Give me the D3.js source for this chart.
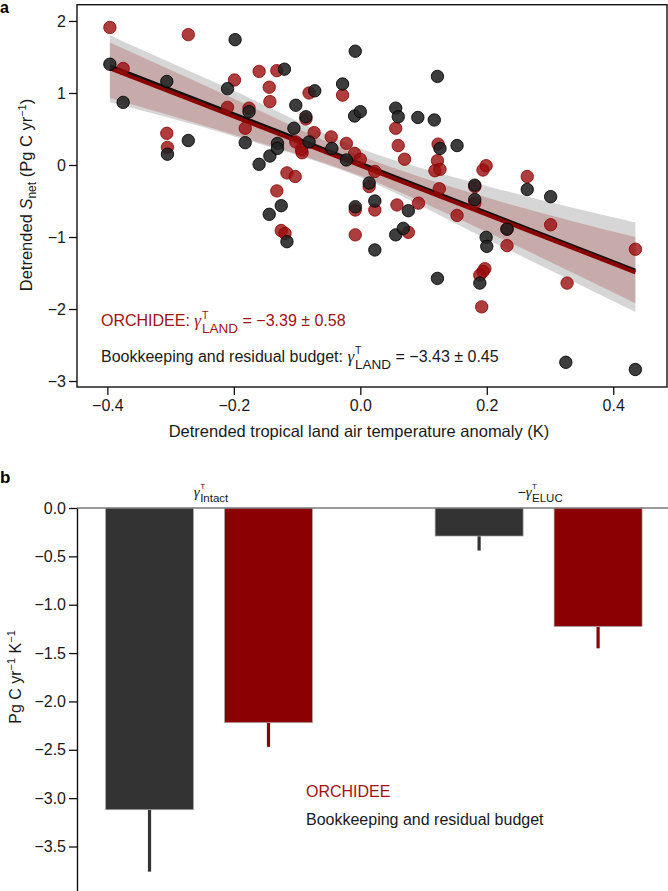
<!DOCTYPE html>
<html><head><meta charset="utf-8">
<script src="https://cdn.jsdelivr.net/npm/d3@7"></script>
<style>
body{margin:0;background:#fff}
svg{display:block}
text{font-family:"Liberation Sans",Arial,Helvetica,sans-serif}
</style>
</head><body>
<svg id="c" width="668" height="891"></svg>
<script>
// ---------- Panel a data (detrended tropical temperature anomaly, K ; detrended S_net, Pg C/yr) ----------
const bkTemp = [-0.396,-0.375,-0.306,-0.305,-0.272,-0.198,-0.210,-0.182,-0.176,-0.120,-0.160,-0.143,-0.131,-0.131,-0.125,-0.144,-0.102,-0.072,-0.086,-0.105,-0.081,-0.045,-0.022,0.014,-0.008,-0.028,-0.009,0.000,0.056,0.060,0.091,0.117,0.122,0.126,-0.008,0.023,0.076,-0.116,0.023,0.056,0.068,0.122,0.153,0.181,0.181,0.264,0.301,0.232,0.199,0.200,0.189,0.325,0.435];
const bkSnet = [1.40,0.87,1.16,0.15,0.34,1.74,1.06,0.31,0.74,1.33,0.01,0.125,0.30,0.23,-0.565,-0.685,0.83,1.03,0.67,0.51,0.32,0.23,0.07,-0.25,1.58,1.125,0.68,0.74,0.79,0.67,0.66,0.625,1.23,0.23,-0.58,-0.50,-0.635,-1.065,-1.18,-0.97,-0.88,-1.575,0.27,-0.28,-0.48,-0.34,-0.44,-0.89,-1.005,-1.13,-1.64,-2.74,-2.84];
const orTemp = [-0.396,-0.375,-0.306,-0.305,-0.272,-0.199,-0.210,-0.182,-0.176,-0.160,-0.132,-0.144,-0.143,-0.116,-0.103,-0.132,-0.081,-0.086,-0.073,-0.102,-0.093,-0.092,-0.046,-0.022,-0.009,0.000,0.023,0.014,-0.028,0.056,0.060,0.070,0.123,0.122,0.118,0.126,0.125,-0.008,0.023,0.058,0.092,-0.125,-0.119,-0.008,0.076,0.153,0.181,0.181,0.194,0.199,0.264,0.232,0.232,0.301,0.435,0.327,0.197,0.194,0.189,0.192];
const orSnet = [1.91,1.34,0.44,0.245,1.81,1.18,0.80,0.51,0.79,1.30,1.31,1.08,0.88,-0.11,-0.16,-0.36,1.00,0.64,0.45,0.32,0.21,0.17,0.39,0.30,0.16,0.08,-0.09,-0.30,0.97,0.51,0.27,0.08,0.29,0.06,-0.08,-0.06,-0.33,-0.625,-0.625,-0.555,-0.53,-0.91,-0.95,-0.97,-0.935,-0.70,-0.30,-0.53,-0.07,-0.01,-0.16,-0.89,-1.12,-0.83,-1.17,-1.64,-1.44,-1.48,-1.53,-1.97];

// regression lines (end points) and confidence bands
const fitTemp = [-0.396, 0.435];
const bkFit = [1.38, -1.46];
const orFit = [1.34, -1.49];
const bandTemp = [-0.396, -0.2, 0.0, 0.2, 0.435];
const bkBandUpper = [1.80, 1.03, 0.23, -0.29, -0.80];
const bkBandLower = [0.87, 0.40, -0.17, -1.03, -2.04];
const orBandUpper = [1.70, 0.92, 0.13, -0.45, -1.00];
const orBandLower = [0.93, 0.42, -0.15, -0.93, -1.92];

const xTicksA = [-0.4, -0.2, 0.0, 0.2, 0.4];
const yTicksA = [2, 1, 0, -1, -2, -3];

// ---------- Panel b data ----------
const groups = ["Intact", "ELUC"];
const seriesB = ["Bookkeeping and residual budget", "ORCHIDEE"];
const barBK = [-3.12, -0.29];
const barOR = [-2.22, -1.226];
const errBK = [0.64, 0.15];
const errOR = [0.25, 0.225];
const yTicksB = [0.0, -0.5, -1.0, -1.5, -2.0, -2.5, -3.0, -3.5];

// ---------- styles ----------
const RED = "#8b0000", RED_TXT = "#a01212", DARK = "#333333", INK = "#1a1a1a";
const SERIF = '"Liberation Serif","DejaVu Serif",serif';
const fmtMinus = d => d3.format(".1f")(d).replace("-", "\u2212");
const fmtInt = d => String(d).replace("-", "\u2212");

const svg = d3.select("#c");

// rich text helper: one <text>, tspans laid out sequentially; stack:true places part at previous part's start
function rich(parent, x, y, parts, opt) {
  opt = opt || {};
  const txt = parent.append("text").attr("fill", opt.fill || INK);
  let cx = 0, lastStart = 0;
  const spans = [];
  parts.forEach(p => {
    const t = txt.append("tspan")
      .attr("y", y + (p.dy || 0))
      .style("font-size", (p.size || 16) + "px")
      .style("font-family", p.serif ? SERIF : null)
      .style("font-style", p.italic ? "italic" : "normal")
      .text(p.t);
    if (p.fill) t.attr("fill", p.fill);
    t.attr("x", 0);
    const w = t.node().getComputedTextLength();
    let sx;
    if (p.stack) {
      sx = lastStart;
      cx = Math.max(cx, lastStart + w);
    } else {
      sx = cx + (p.gap || 0);
      lastStart = sx;
      cx = sx + w;
    }
    spans.push([t, sx]);
  });
  const ox = opt.anchor === "middle" ? x - cx / 2 : x;
  spans.forEach(([t, sx]) => t.attr("x", ox + sx));
  return txt;
}

// ================= Panel a =================
const xA = d3.scaleLinear().domain([-0.448, 0.485]).range([77, 667]);
const yA = d3.scaleLinear().domain([-3.083, 2.226]).range([387, 4.7]);

const gA = svg.append("g");

// confidence bands
const bkBand = bandTemp.map((t, i) => ({t, lo: bkBandLower[i], hi: bkBandUpper[i]}));
const orBand = bandTemp.map((t, i) => ({t, lo: orBandLower[i], hi: orBandUpper[i]}));
const area = d3.area().x(d => xA(d.t)).y0(d => yA(d.lo)).y1(d => yA(d.hi)).curve(d3.curveMonotoneX);
gA.append("path").datum(bkBand).attr("d", area).attr("fill", "#d6d6d6");
gA.append("path").datum(orBand).attr("d", area).attr("fill", RED).attr("fill-opacity", 0.2);

// regression lines
const lineGen = d3.line().x(d => xA(d[0])).y(d => yA(d[1]));
gA.append("path").datum(fitTemp.map((t, i) => [t, bkFit[i]])).attr("d", lineGen)
  .attr("stroke", "#111").attr("stroke-width", 3).attr("fill", "none");
gA.append("path").datum(fitTemp.map((t, i) => [t, orFit[i]])).attr("d", lineGen)
  .attr("stroke", RED).attr("stroke-width", 4).attr("fill", "none");

// points: red first, then black on top
gA.append("g").selectAll("circle").data(orTemp.map((t, i) => [t, orSnet[i]])).join("circle")
  .attr("cx", d => xA(d[0])).attr("cy", d => yA(d[1])).attr("r", 6.2)
  .attr("fill", "#9a0c0c").attr("fill-opacity", 0.8)
  .attr("stroke", RED).attr("stroke-opacity", 0.8).attr("stroke-width", 1);
gA.append("g").selectAll("circle").data(bkTemp.map((t, i) => [t, bkSnet[i]])).join("circle")
  .attr("cx", d => xA(d[0])).attr("cy", d => yA(d[1])).attr("r", 6.2)
  .attr("fill", "#222").attr("fill-opacity", 0.88)
  .attr("stroke", "#000").attr("stroke-opacity", 0.85).attr("stroke-width", 1);

// frame
gA.append("rect").attr("x", 77).attr("y", 4.7).attr("width", 590).attr("height", 382.3)
  .attr("fill", "none").attr("stroke", "#111").attr("stroke-width", 1.4);

// axes
const axA_x = gA.append("g").attr("transform", "translate(0,387)")
  .call(d3.axisBottom(xA).tickValues(xTicksA).tickFormat(fmtMinus).tickSize(8).tickPadding(5));
const axA_y = gA.append("g").attr("transform", "translate(77,0)")
  .call(d3.axisLeft(yA).tickValues(yTicksA).tickFormat(fmtInt).tickSize(8).tickPadding(3));
[axA_x, axA_y].forEach(a => {
  a.select(".domain").remove();
  a.selectAll(".tick line").attr("stroke", "#111").attr("stroke-width", 1.3);
  a.selectAll(".tick text").attr("fill", INK).style("font-size", "16px").style("font-family", null);
});

// axis titles
gA.append("text").attr("x", 359).attr("y", 437).attr("text-anchor", "middle")
  .style("font-size", "16.5px").attr("fill", INK)
  .text("Detrended tropical land air temperature anomaly (K)");
const yt = gA.append("text").attr("transform", "translate(31.5,195) rotate(-90)")
  .attr("text-anchor", "middle").style("font-size", "16.5px").attr("fill", INK);
yt.append("tspan").text("Detrended ");
yt.append("tspan").style("font-style", "italic").text("S");
yt.append("tspan").attr("dy", 4).style("font-size", "12px").text("net");
yt.append("tspan").attr("dy", -4).text("\u00A0(Pg C yr");
yt.append("tspan").attr("dy", -6).style("font-size", "11px").text("\u22121");
yt.append("tspan").attr("dy", 6).text(")");

// annotations
rich(gA, 101, 326, [
  {t: "ORCHIDEE:\u00A0", size: 16},
  {t: "\u03B3", size: 17, serif: true, italic: true},
  {t: "T", size: 10.5, dy: -7.5, gap: 1},
  {t: "LAND", size: 13.5, dy: 7.3, stack: true},
  {t: "\u00A0=\u00A0\u22123.39\u00A0\u00B1\u00A00.58", size: 16}
], {fill: RED_TXT});
rich(gA, 101, 361.7, [
  {t: "Bookkeeping and residual budget:\u00A0", size: 16},
  {t: "\u03B3", size: 17, serif: true, italic: true},
  {t: "T", size: 10.5, dy: -7.5, gap: 1},
  {t: "LAND", size: 13.5, dy: 7.3, stack: true},
  {t: "\u00A0=\u00A0\u22123.43\u00A0\u00B1\u00A00.45", size: 16}
], {fill: INK});

// panel letter
svg.append("text").attr("x", 0).attr("y", 12.5).style("font-size", "16px").style("font-weight", "bold").text("a");

// ================= Panel b =================
const yB = d3.scaleLinear().domain([0, -3.96]).range([508, 891]);
const xG = d3.scalePoint().domain(groups).range([209, 538.6]);
const xS = d3.scaleBand().domain(seriesB).range([-103.5, 103.5]).paddingInner(0.26).paddingOuter(0);
const gB = svg.append("g");

const barData = [];
groups.forEach((g, i) => {
  barData.push({g, s: seriesB[0], v: barBK[i], e: errBK[i], c: DARK});
  barData.push({g, s: seriesB[1], v: barOR[i], e: errOR[i], c: RED});
});

// error bars (downward only)
gB.append("g").selectAll("line").data(barData).join("line")
  .attr("x1", d => xG(d.g) + xS(d.s) + xS.bandwidth() / 2)
  .attr("x2", d => xG(d.g) + xS(d.s) + xS.bandwidth() / 2)
  .attr("y1", d => yB(d.v)).attr("y2", d => yB(d.v - d.e))
  .attr("stroke", d => d.c).attr("stroke-width", 3.2);

gB.append("g").selectAll("rect").data(barData).join("rect")
  .attr("x", d => xG(d.g) + xS(d.s)).attr("width", xS.bandwidth())
  .attr("y", yB(0)).attr("height", d => yB(d.v) - yB(0))
  .attr("fill", d => d.c).attr("stroke", "#b0b0b0").attr("stroke-width", 0.7);

// zero line
gB.append("line").attr("x1", 77).attr("x2", 668).attr("y1", yB(0)).attr("y2", yB(0))
  .attr("stroke", "#7a7a7a").attr("stroke-width", 1.5);

// y axis
const axB = gB.append("g").attr("transform", "translate(77,0)")
  .call(d3.axisLeft(yB).tickValues(yTicksB).tickFormat(fmtMinus).tickSize(8).tickPadding(3).tickSizeOuter(0));
axB.select(".domain").attr("stroke", "#111").attr("stroke-width", 1.4);
axB.selectAll(".tick line").attr("stroke", "#111").attr("stroke-width", 1.3);
axB.selectAll(".tick text").attr("fill", INK).style("font-size", "16px").style("font-family", null);

// y title
const ytb = gB.append("text").attr("transform", "translate(21,677) rotate(-90)")
  .attr("text-anchor", "middle").style("font-size", "16px").attr("fill", INK);
ytb.append("tspan").text("Pg C yr");
ytb.append("tspan").attr("dy", -6).style("font-size", "11px").text("\u22121");
ytb.append("tspan").attr("dy", 6).text("\u00A0K");
ytb.append("tspan").attr("dy", -6).style("font-size", "11px").text("\u22121");

// group labels
rich(gB, xG("Intact") + 2, 496.7, [
  {t: "\u03B3", size: 15, serif: true, italic: true},
  {t: "T", size: 8, dy: -7.3, gap: 0.5},
  {t: "Intact", size: 11.5, dy: 5, stack: true}
], {anchor: "middle"});
rich(gB, xG("ELUC") + 1.5, 496.7, [
  {t: "\u2212", size: 14},
  {t: "\u03B3", size: 15, serif: true, italic: true},
  {t: "T", size: 8, dy: -7.3, gap: 0.5},
  {t: "ELUC", size: 11.5, dy: 5, stack: true}
], {anchor: "middle"});

// legend
gB.append("text").attr("x", 306).attr("y", 796.7).style("font-size", "16px").attr("fill", RED_TXT).text(seriesB[1]);
gB.append("text").attr("x", 306).attr("y", 825).style("font-size", "16px").attr("fill", INK).text(seriesB[0]);

svg.append("text").attr("x", 0).attr("y", 483).style("font-size", "17px").style("font-weight", "bold").text("b");
</script>
</body></html>
